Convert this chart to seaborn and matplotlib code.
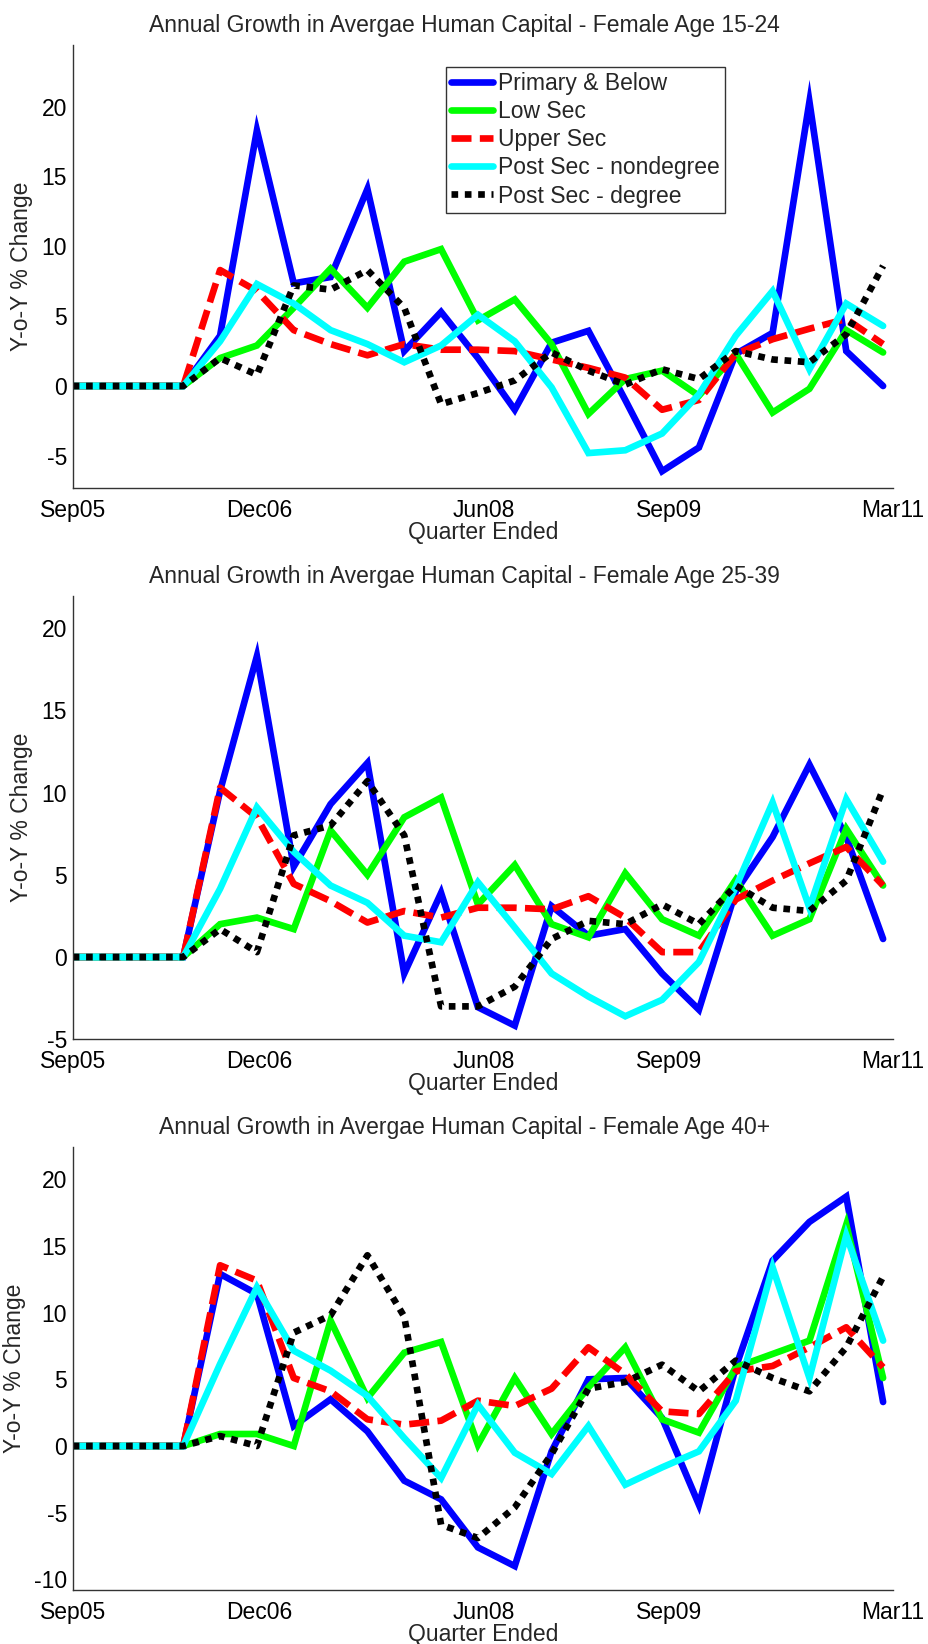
import numpy as np
import matplotlib
matplotlib.use("Agg")
import matplotlib.pyplot as plt
import seaborn as sns
from matplotlib.ticker import MultipleLocator

# Quarters on the x axis (Sep05 .. Mar11)
quarters = ['Sep05', 'Dec05', 'Mar06', 'Jun06', 'Sep06', 'Dec06', 'Mar07', 'Jun07',
            'Sep07', 'Dec07', 'Mar08', 'Jun08', 'Sep08', 'Dec08', 'Mar09', 'Jun09',
            'Sep09', 'Dec09', 'Mar10', 'Jun10', 'Sep10', 'Dec10', 'Mar11']
tick_labels = ['Sep05', 'Dec06', 'Jun08', 'Sep09', 'Mar11']

series_names = ['Primary & Below', 'Low Sec', 'Upper Sec',
                'Post Sec - nondegree', 'Post Sec - degree']

# Female age 15-24
f1524_primary = [0, 0, 0, 0, 3.6, 18.3, 7.35, 7.8, 14.1, 2.5, 5.3, 2.0, -1.7, 3.1, 3.95, -1.0,
                 -6.1, -4.4, 2.3, 3.8, 20.35, 2.5, 0]
f1524_lowsec = [0, 0, 0, 0, 2.0, 2.9, 5.6, 8.4, 5.6, 8.9, 9.8, 4.7, 6.2, 3.0, -2.0, 0.5,
                1.1, -0.7, 2.3, -1.9, -0.2, 4.0, 2.4]
f1524_uppersec = [0, 0, 0, 0, 8.3, 6.8, 4.0, 3.0, 2.2, 3.0, 2.6, 2.6, 2.5, 1.9, 1.3, 0.6,
                  -1.7, -1.0, 2.3, 3.35, 4.1, 4.8, 3.0]
f1524_nondeg = [0, 0, 0, 0, 3.2, 7.3, 5.9, 4.0, 3.0, 1.7, 2.9, 5.1, 3.2, -0.1, -4.8, -4.6,
                -3.4, -0.6, 3.6, 6.8, 1.2, 5.9, 4.3]
f1524_degree = [0, 0, 0, 0, 2.0, 0.8, 7.2, 6.9, 8.3, 5.6, -1.3, -0.5, 0.4, 2.4, 1.1, 0.1,
                1.2, 0.5, 2.5, 1.9, 1.7, 3.7, 8.6]

# Female age 25-39
f2539_primary = [0, 0, 0, 0, 10.1, 18.3, 5.5, 9.3, 11.8, -1.0, 3.9, -3.05, -4.17, 3.1, 1.3, 1.7,
                 -1.0, -3.2, 4.0, 7.3, 11.7, 7.3, 1.1]
f2539_lowsec = [0, 0, 0, 0, 2.0, 2.4, 1.7, 7.7, 5.0, 8.5, 9.7, 3.2, 5.6, 2.0, 1.2, 5.1,
                2.3, 1.3, 4.7, 1.3, 2.3, 7.8, 4.35]
f2539_uppersec = [0, 0, 0, 0, 10.3, 8.5, 4.45, 3.4, 2.1, 2.8, 2.4, 3.0, 3.0, 2.9, 3.7, 2.4,
                  0.3, 0.3, 3.5, 4.65, 5.7, 6.7, 4.35]
f2539_nondeg = [0, 0, 0, 0, 4.15, 9.1, 6.4, 4.35, 3.3, 1.3, 0.9, 4.55, 1.8, -1.0, -2.4, -3.6,
                -2.6, -0.3, 4.25, 9.4, 3.0, 9.6, 5.8]
f2539_degree = [0, 0, 0, 0, 1.7, 0.3, 7.4, 8.0, 10.7, 7.4, -3.0, -3.0, -1.8, 1.1, 2.2, 2.0,
                3.2, 2.0, 4.35, 3.0, 2.8, 4.65, 10.2]

# Female age 40+
f40_primary = [0, 0, 0, 0, 12.9, 11.4, 1.5, 3.5, 1.1, -2.6, -4.0, -7.6, -9.0, -0.4, 5.0, 5.1,
               2.1, -4.4, 5.9, 13.9, 16.8, 18.7, 3.3]
f40_lowsec = [0, 0, 0, 0, 0.9, 0.9, 0, 9.4, 3.6, 7.0, 7.8, 0.1, 5.1, 0.9, 4.4, 7.4,
              2.0, 1.0, 5.9, 6.9, 7.9, 16.6, 5.1]
f40_uppersec = [0, 0, 0, 0, 13.55, 12.4, 5.1, 4.1, 2.0, 1.6, 1.9, 3.4, 3.0, 4.3, 7.4, 5.4,
                2.6, 2.4, 5.6, 6.0, 7.4, 8.9, 5.9]
f40_nondeg = [0, 0, 0, 0, 6.15, 11.9, 7.15, 5.65, 3.75, 0.6, -2.4, 3.1, -0.5, -2.1, 1.5, -2.9,
              -1.6, -0.4, 3.4, 13.4, 5.1, 15.8, 7.9]
f40_degree = [0, 0, 0, 0, 0.75, 0, 8.5, 9.8, 14.3, 9.7, -5.9, -6.9, -4.6, -0.6, 4.3, 4.8,
              6.1, 4.1, 6.4, 5.1, 4.1, 7.4, 12.7]

panels = [
    ('Annual Growth in Avergae Human Capital - Female Age 15-24',
     [f1524_primary, f1524_lowsec, f1524_uppersec, f1524_nondeg, f1524_degree]),
    ('Annual Growth in Avergae Human Capital - Female Age 25-39',
     [f2539_primary, f2539_lowsec, f2539_uppersec, f2539_nondeg, f2539_degree]),
    ('Annual Growth in Avergae Human Capital - Female Age 40+',
     [f40_primary, f40_lowsec, f40_uppersec, f40_nondeg, f40_degree]),
]

# Line styles (MATLAB-like)
colors = ['#0000ff', '#00ff00', '#ff0000', '#00ffff', '#000000']
styles = ['-', '-', (0, (3, 1.25)), '-', (0, (1, 1))]

sns.set_style('white')
plt.rcParams['font.family'] = ['Liberation Sans', 'DejaVu Sans']
plt.rcParams['axes.unicode_minus'] = False
fs = 16.5

fig = plt.figure(figsize=(9.29, 16.44), dpi=100)
bottoms = [0.703, 0.3678, 0.0328]
x = np.arange(len(quarters))
tick_pos = [0, 5.06, 11.15, 16.2, 22.27]

for (title, data), bottom in zip(panels, bottoms):
    ax = fig.add_axes([0.0783, bottom, 0.883, 0.2697])
    for name, vals, c, ls in zip(series_names, data, colors, styles):
        sns.lineplot(x=x, y=vals, ax=ax, color=c, linestyle=ls, linewidth=4.8,
                     label=name, legend=False, solid_joinstyle='miter')
    allv = np.concatenate([np.array(v, dtype=float) for v in data])
    ax.set_ylim(1.2 * allv.min(), 1.2 * allv.max())
    ax.set_xlim(0, tick_pos[-1])
    ax.set_xticks(tick_pos)
    ax.set_xticklabels(tick_labels)
    ax.yaxis.set_major_locator(MultipleLocator(5))
    ax.tick_params(direction='in', length=5, width=0.8, labelsize=fs,
                   top=False, right=False, colors='#222222', labelcolor='black')
    ax.tick_params(axis='x', pad=8)
    ax.tick_params(axis='y', pad=4)
    for s in ['top', 'right']:
        ax.spines[s].set_visible(False)
    for s in ['left', 'bottom']:
        ax.spines[s].set_color('#333333')
        ax.spines[s].set_linewidth(1)
    ax.set_xlabel('Quarter Ended', fontsize=fs, labelpad=-1)
    ax.set_ylabel('Y-o-Y % Change', fontsize=fs, labelpad=6)
    ax.set_title(title, fontsize=fs, pad=9, x=0.478)
    if bottom == bottoms[0]:
        leg = ax.legend(loc='upper left', bbox_to_anchor=(0.4547, 0.951),
                        borderaxespad=0, fontsize=fs, frameon=True, fancybox=False,
                        edgecolor='black', handlelength=1.8, handletextpad=0.22,
                        labelspacing=0.22, borderpad=0.25)
        leg.get_frame().set_linewidth(1)

plt.savefig('out.png', dpi=100)
